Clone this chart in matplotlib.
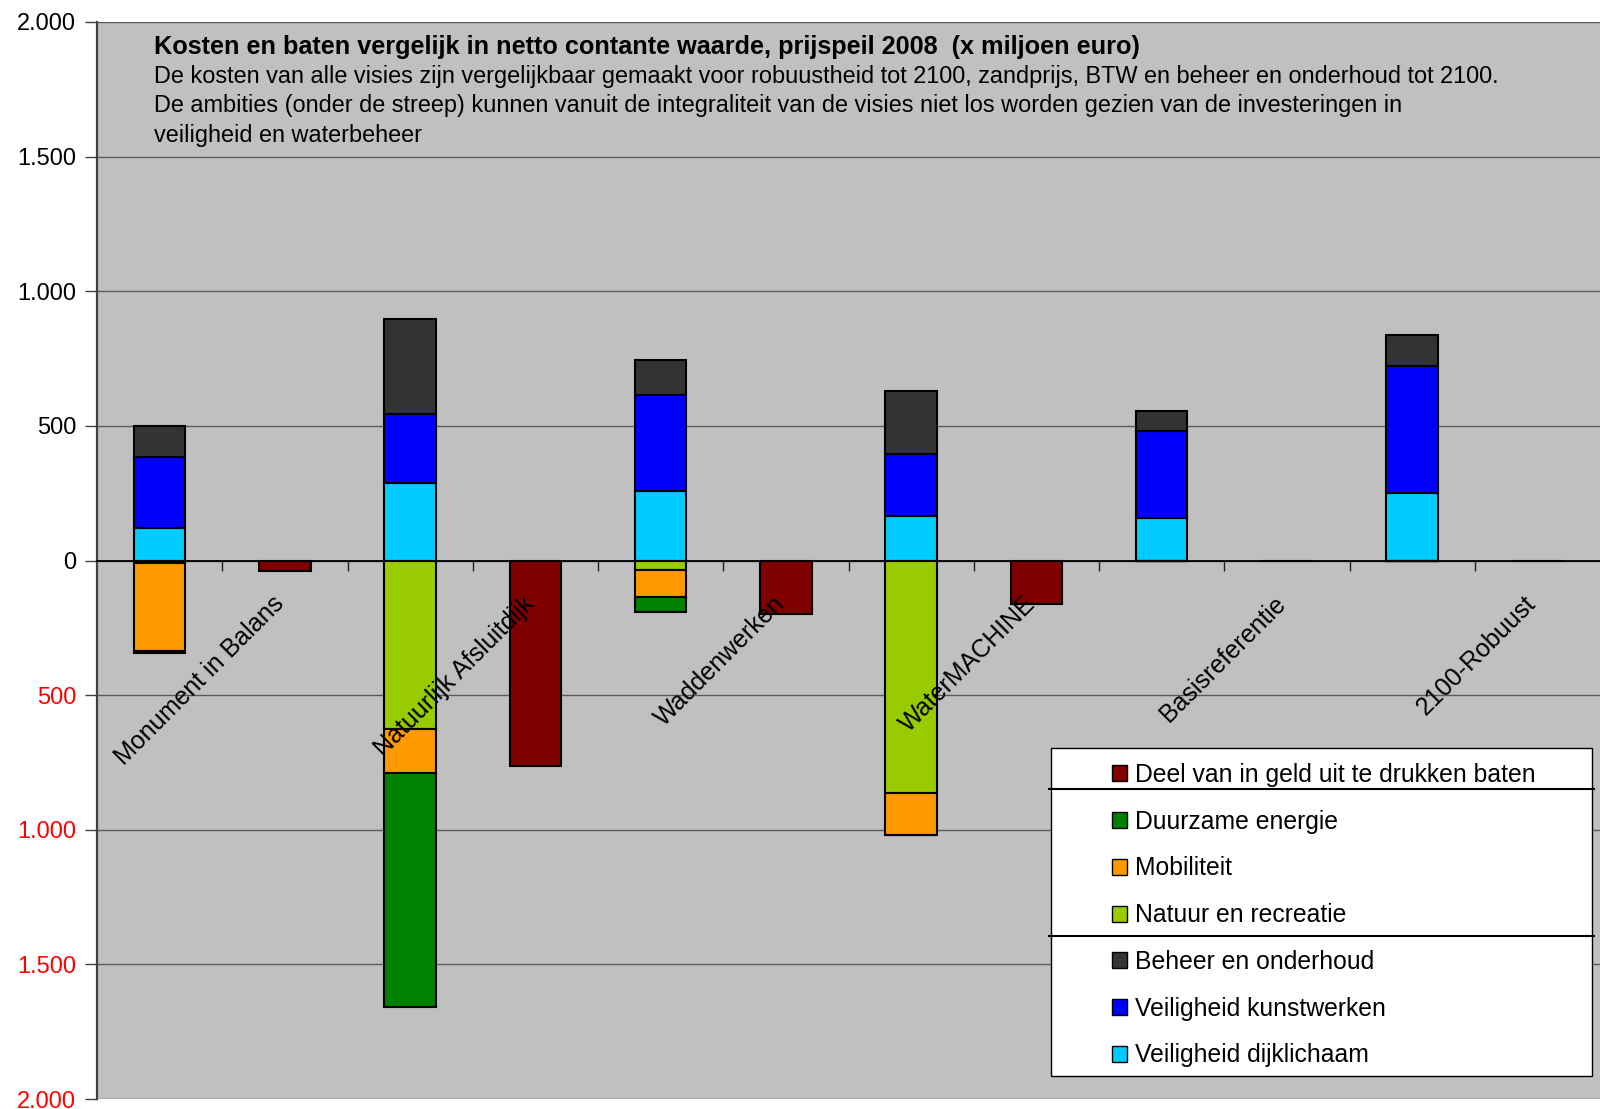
import numpy as np
import matplotlib
matplotlib.use('Agg')
import matplotlib.pyplot as plt
from matplotlib.patches import Patch, Rectangle
from matplotlib.lines import Line2D

plt.rcParams['font.family'] = ['Liberation Sans', 'DejaVu Sans']

visies = ['Monument in Balans', 'Natuurlijk Afsluitdijk', 'Waddenwerken',
          'WaterMACHINE', 'Basisreferentie', '2100-Robuust']

# kosten boven de streep (x miljoen euro)
dijklichaam = [120, 289, 259, 166, 156, 250]
kunstwerken = [264, 255, 357, 229, 325, 472]
beheer = [116, 354, 129, 233, 76, 116]

# ambities onder de streep
natuur = [-8, -624, -37, -865, 0, 0]
mobiliteit = [-329, -165, -99, -154, 0, 0]
duurzaam = [-8, -870, -55, 0, 0, 0]

# deel van de baten dat in geld uit te drukken is
baten = [-40, -765, -200, -160, 0, 0]

yticks = [-2000, -1500, -1000, -500, 0, 500, 1000, 1500, 2000]

title = 'Kosten en baten vergelijk in netto contante waarde, prijspeil 2008  (x miljoen euro)'
subtitle = [
    'De kosten van alle visies zijn vergelijkbaar gemaakt voor robuustheid tot 2100, zandprijs, BTW en beheer en onderhoud tot 2100.',
    'De ambities (onder de streep) kunnen vanuit de integraliteit van de visies niet los worden gezien van de investeringen in',
    'veiligheid en waterbeheer',
]

kleuren = {
    'Deel van in geld uit te drukken baten': '#800000',
    'Duurzame energie': '#008000',
    'Mobiliteit': '#FF9900',
    'Natuur en recreatie': '#99CC00',
    'Beheer en onderhoud': '#333333',
    'Veiligheid kunstwerken': '#0000FF',
    'Veiligheid dijklichaam': '#00CCFF',
}

W, H = 1600, 1109
fig = plt.figure(figsize=(W / 100, H / 100), dpi=100)
ax = fig.add_axes([97 / W, 10 / H, 1503 / W, 1077 / H])
ax.set_facecolor('#C0C0C0')
ax.set_axisbelow(True)

x_kost = np.arange(len(visies)) * 2
x_baten = x_kost + 1
bw = 0.41
edge = dict(edgecolor='black', linewidth=1.5)

dijklichaam = np.array(dijklichaam)
kunstwerken = np.array(kunstwerken)
natuur = np.array(natuur)
mobiliteit = np.array(mobiliteit)

ax.bar(x_kost, dijklichaam, bw, color=kleuren['Veiligheid dijklichaam'], **edge)
ax.bar(x_kost, kunstwerken, bw, bottom=dijklichaam, color=kleuren['Veiligheid kunstwerken'], **edge)
ax.bar(x_kost, beheer, bw, bottom=dijklichaam + kunstwerken, color=kleuren['Beheer en onderhoud'], **edge)
ax.bar(x_kost, natuur, bw, color=kleuren['Natuur en recreatie'], **edge)
ax.bar(x_kost, mobiliteit, bw, bottom=natuur, color=kleuren['Mobiliteit'], **edge)
ax.bar(x_kost, duurzaam, bw, bottom=natuur + mobiliteit, color=kleuren['Duurzame energie'], **edge)
ax.bar(x_baten, baten, bw, color=kleuren['Deel van in geld uit te drukken baten'], **edge)

ax.set_xlim(-0.5, 11.5)
ax.set_ylim(-2000, 2000)

# y-as: negatieve waarden in rood, zonder minteken
ax.set_yticks(yticks)
ax.set_yticklabels([f'{abs(v):,}'.replace(',', '.') for v in yticks])
for lbl, v in zip(ax.get_yticklabels(), yticks):
    lbl.set_color('red' if v < 0 else 'black')
ax.tick_params(axis='y', length=9, width=1, pad=6, labelsize=17, color='#404040')
ax.grid(axis='y', color='#5a5a5a', linewidth=1)

# categorie-as op nul
ax.set_xticks(np.arange(0.5, 11, 1))
ax.tick_params(axis='x', direction='out', length=7, width=1, labelbottom=False, color='#202020')
ax.spines['bottom'].set_position(('data', 0))
ax.spines['bottom'].set_linewidth(1.3)
ax.spines['top'].set_visible(False)
ax.spines['right'].set_visible(False)
ax.spines['left'].set_color('#404040')
ax.spines['left'].set_linewidth(1.6)

for x, naam in zip(x_baten, visies):
    ax.annotate(naam, xy=(x, 0), xytext=(0, -32), textcoords='offset points',
                rotation=45, rotation_mode='anchor', ha='right', va='baseline',
                fontsize=18)

fig.text(154 / W, 1 - 47 / H, title, fontsize=18.2, fontweight='bold', va='center')
for i, regel in enumerate(subtitle):
    fig.text(154 / W, 1 - (76.5 + 29.3 * i) / H, regel, fontsize=16.9, va='center')

# legenda met scheidingslijnen
fig.add_artist(Rectangle((1051 / W, 1 - 1076 / H), 541 / W, 328 / H,
                         transform=fig.transFigure, facecolor='white',
                         edgecolor='black', linewidth=1, zorder=5))
for ys in (789, 936):
    fig.add_artist(Line2D([1049 / W, 1594 / W], [1 - ys / H, 1 - ys / H],
                          transform=fig.transFigure, color='black', linewidth=1.5, zorder=6))

handles = [Patch(facecolor=c, edgecolor='black', linewidth=1, label=k) for k, c in kleuren.items()]
leg = fig.legend(handles=handles, loc='upper left', bbox_to_anchor=(1112 / W, 1 - 763 / H),
                 frameon=False, fontsize=17.8, borderpad=0, borderaxespad=0,
                 handlelength=0.62, handleheight=0.62, handletextpad=0.3, labelspacing=0.92)
leg.set_zorder(7)

fig.savefig('out.png', dpi=100)
